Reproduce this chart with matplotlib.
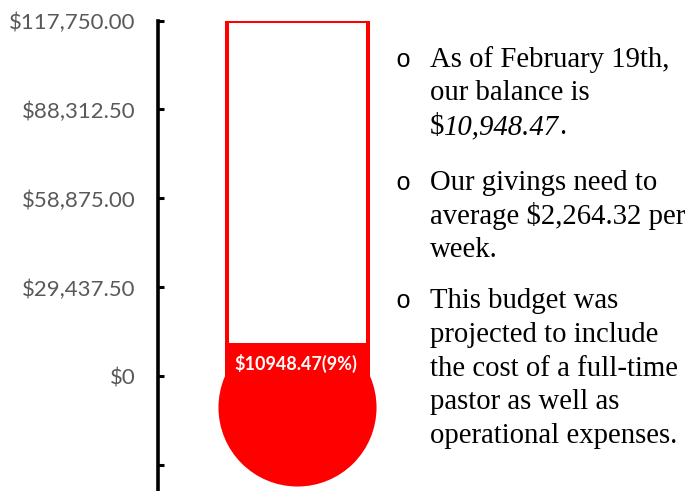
import matplotlib
matplotlib.use("Agg")
import matplotlib.pyplot as plt

# data
goal = 117750.00
balance = 10948.47
tick_values = [-29437.5, 0, 29437.5, 58875.0, 88312.5, 117750.0]
tick_labels = ["", "$0", "$29,437.50", "$58,875.00", "$88,312.50", "$117,750.00"]

bullets = [
    ["As of February 19th,", "our balance is", None],
    ["Our givings need to", "average $2,264.32 per", "week."],
    ["This budget was", "projected to include", "the cost of a full-time",
     "pastor as well as", "operational expenses."],
]
balance_text = ["$", "10,948.47", "."]

W, H = 691, 491
fig = plt.figure(figsize=(W / 100, H / 100), dpi=100)

def fx(px):
    return px / W

def fy(py):
    return 1 - py / H

red = "#ff0000"

# axes: spine at x=157.5px, top tick at y=20.5px, runs to the bottom
ax = fig.add_axes([fx(157.5), 0, fx(230), (H - 20.5) / H])
ax.set_xlim(0, 230)
ax.set_ylim(-37872, goal)

xc = 139.5
bw = 141

# bulb
ax.plot(xc, -0.0857 * goal, "o", ms=113.8, color=red, mew=0, zorder=1, clip_on=False)
# tube outline
ax.bar(xc, goal, width=bw, bottom=0, facecolor="white", edgecolor=red, linewidth=2.9, zorder=2)
# filled part
ax.bar(xc, balance, width=bw + 4, bottom=0, color=red, linewidth=0, zorder=3)

label = f"${balance:.2f}({balance / goal:.0%})"
ax.text(xc - 1, balance * 0.38, label, ha="center", va="center", color="white",
        fontsize=13, fontweight="bold", family="Lato", zorder=4)

ax.set_yticks(tick_values)
ax.set_yticklabels(tick_labels)
ax.tick_params(axis="y", direction="in", length=4.3, width=2.2, pad=16,
               labelsize=16, labelcolor="#595959")
for lab in ax.get_yticklabels():
    lab.set_family("Lato")
ax.set_xticks([])
for side in ["top", "right", "bottom"]:
    ax.spines[side].set_visible(False)
ax.spines["left"].set_linewidth(2.6)
ax.patch.set_alpha(0)

# bullet text
fs = 20.7
serif = "Liberation Serif"
baselines = [[67, 100.5, 134], [190, 223.5, 257], [308, 342, 375.5, 409, 443]]
for lines, ys in zip(bullets, baselines):
    fig.text(fx(395), fy(ys[0]), "o", family="Liberation Mono", fontsize=18,
             va="baseline", ha="left")
    for line, y in zip(lines, ys):
        if line is None:
            t1 = fig.text(fx(430), fy(y), balance_text[0], family=serif, fontsize=fs,
                          va="baseline", ha="left")
            t2 = ax.annotate(balance_text[1], xy=(1, 0), xycoords=t1, xytext=(0, 0),
                             textcoords="offset points", va="bottom", ha="left",
                             family=serif, fontsize=fs, style="italic",
                             annotation_clip=False)
            ax.annotate(balance_text[2], xy=(1, 0), xycoords=t2, xytext=(-0.5, 0),
                        textcoords="offset points", va="bottom", ha="left",
                        family=serif, fontsize=fs, annotation_clip=False)
        else:
            fig.text(fx(430), fy(y), line, family=serif, fontsize=fs,
                     va="baseline", ha="left")

fig.savefig("out.png", dpi=100)
